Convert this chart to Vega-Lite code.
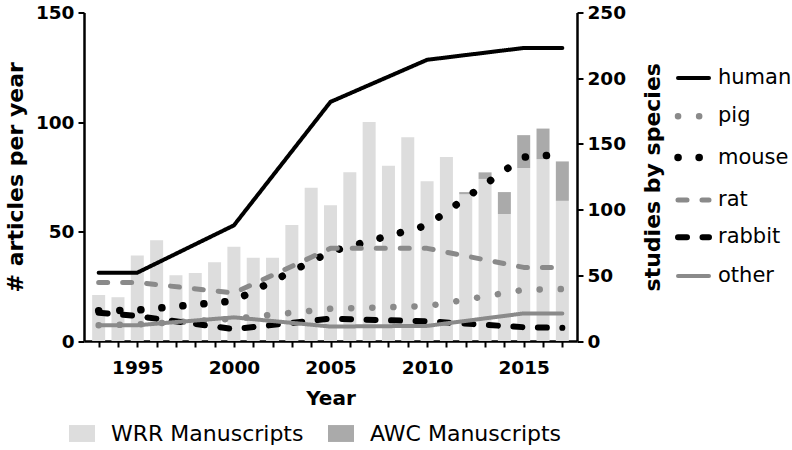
{
  "$schema": "https://vega.github.io/schema/vega-lite/v6.json",
  "width": 493,
  "height": 328.5,
  "autosize": {"type": "none"},
  "padding": {"left": 84, "top": 12.5, "right": 215, "bottom": 109},
  "background": "white",
  "config": {
    "view": {"stroke": null},
    "axis": {
      "grid": false,
      "domainColor": "black",
      "domainWidth": 2.5,
      "tickColor": "black",
      "tickWidth": 2,
      "tickSize": 6,
      "labelFont": "DejaVu Sans",
      "labelFontWeight": "bold",
      "labelFontSize": 18.5,
      "labelColor": "black",
      "labelPadding": 4,
      "titleFont": "DejaVu Sans",
      "titleFontWeight": "bold",
      "titleFontSize": 22,
      "titleColor": "black"
    },
    "legend": {
      "labelFont": "DejaVu Sans",
      "labelColor": "black",
      "padding": 0,
      "labelLimit": 300
    }
  },
  "datasets": {
    "bars": [
      {"year": 1993, "type": "WRR Manuscripts", "count": 21},
      {"year": 1994, "type": "WRR Manuscripts", "count": 20},
      {"year": 1995, "type": "WRR Manuscripts", "count": 39},
      {"year": 1996, "type": "WRR Manuscripts", "count": 46},
      {"year": 1997, "type": "WRR Manuscripts", "count": 30},
      {"year": 1998, "type": "WRR Manuscripts", "count": 31},
      {"year": 1999, "type": "WRR Manuscripts", "count": 36},
      {"year": 2000, "type": "WRR Manuscripts", "count": 43},
      {"year": 2001, "type": "WRR Manuscripts", "count": 38},
      {"year": 2002, "type": "WRR Manuscripts", "count": 38},
      {"year": 2003, "type": "WRR Manuscripts", "count": 53},
      {"year": 2004, "type": "WRR Manuscripts", "count": 70},
      {"year": 2005, "type": "WRR Manuscripts", "count": 62},
      {"year": 2006, "type": "WRR Manuscripts", "count": 77},
      {"year": 2007, "type": "WRR Manuscripts", "count": 100},
      {"year": 2008, "type": "WRR Manuscripts", "count": 80},
      {"year": 2009, "type": "WRR Manuscripts", "count": 93},
      {"year": 2010, "type": "WRR Manuscripts", "count": 73},
      {"year": 2011, "type": "WRR Manuscripts", "count": 84},
      {"year": 2012, "type": "WRR Manuscripts", "count": 67},
      {"year": 2013, "type": "WRR Manuscripts", "count": 74},
      {"year": 2014, "type": "WRR Manuscripts", "count": 58},
      {"year": 2015, "type": "WRR Manuscripts", "count": 79},
      {"year": 2016, "type": "WRR Manuscripts", "count": 83},
      {"year": 2017, "type": "WRR Manuscripts", "count": 64},
      {"year": 2012, "type": "AWC Manuscripts", "count": 1},
      {"year": 2013, "type": "AWC Manuscripts", "count": 3},
      {"year": 2014, "type": "AWC Manuscripts", "count": 10},
      {"year": 2015, "type": "AWC Manuscripts", "count": 15},
      {"year": 2016, "type": "AWC Manuscripts", "count": 14},
      {"year": 2017, "type": "AWC Manuscripts", "count": 18}
    ],
    "species": [
      {"year": 1993, "species": "human", "studies": 52},
      {"year": 1995, "species": "human", "studies": 52},
      {"year": 2000, "species": "human", "studies": 88},
      {"year": 2005, "species": "human", "studies": 182},
      {"year": 2010, "species": "human", "studies": 214},
      {"year": 2015, "species": "human", "studies": 223},
      {"year": 2017, "species": "human", "studies": 223},
      {"year": 1993, "species": "pig", "studies": 12},
      {"year": 1995, "species": "pig", "studies": 12.5},
      {"year": 2000, "species": "pig", "studies": 17},
      {"year": 2005, "species": "pig", "studies": 24.5},
      {"year": 2010, "species": "pig", "studies": 26.5},
      {"year": 2015, "species": "pig", "studies": 39},
      {"year": 2017, "species": "pig", "studies": 39.5},
      {"year": 1993, "species": "mouse", "studies": 23},
      {"year": 1995, "species": "mouse", "studies": 23.5},
      {"year": 2000, "species": "mouse", "studies": 30.5},
      {"year": 2005, "species": "mouse", "studies": 68},
      {"year": 2010, "species": "mouse", "studies": 88},
      {"year": 2015, "species": "mouse", "studies": 140},
      {"year": 2017, "species": "mouse", "studies": 142},
      {"year": 1993, "species": "rat", "studies": 44.5},
      {"year": 1995, "species": "rat", "studies": 44.5},
      {"year": 2000, "species": "rat", "studies": 36.5},
      {"year": 2005, "species": "rat", "studies": 70.5},
      {"year": 2010, "species": "rat", "studies": 70.5},
      {"year": 2015, "species": "rat", "studies": 56},
      {"year": 2017, "species": "rat", "studies": 56},
      {"year": 1993, "species": "rabbit", "studies": 21.5},
      {"year": 1995, "species": "rabbit", "studies": 19},
      {"year": 2000, "species": "rabbit", "studies": 9},
      {"year": 2005, "species": "rabbit", "studies": 17},
      {"year": 2010, "species": "rabbit", "studies": 15},
      {"year": 2015, "species": "rabbit", "studies": 10.5},
      {"year": 2017, "species": "rabbit", "studies": 10},
      {"year": 1993, "species": "other", "studies": 12},
      {"year": 1995, "species": "other", "studies": 12},
      {"year": 2000, "species": "other", "studies": 18},
      {"year": 2005, "species": "other", "studies": 11},
      {"year": 2010, "species": "other", "studies": 11.5},
      {"year": 2015, "species": "other", "studies": 21},
      {"year": 2017, "species": "other", "studies": 21}
    ]
  },
  "layer": [
    {
      "data": {"name": "bars"},
      "mark": {"type": "bar", "width": 13},
      "encoding": {
        "x": {
          "field": "year",
          "type": "quantitative",
          "scale": {"domain": [1992.5, 2017.5], "nice": false, "zero": false},
          "axis": {
            "orient": "bottom",
            "title": "Year",
            "titleFontSize": 20,
            "titlePadding": 12,
            "values": [1995, 2000, 2005, 2010, 2015],
            "format": "d",
            "ticks": false,
            "labelOverlap": false,
            "labelFlush": false,
            "labelPadding": 17
          }
        },
        "y": {
          "field": "count",
          "type": "quantitative",
          "stack": "zero",
          "scale": {"domain": [0, 150], "nice": false},
          "axis": {"title": "# articles per year", "values": [0, 50, 100, 150], "titlePadding": 8}
        },
        "fill": {
          "field": "type",
          "type": "nominal",
          "scale": {"domain": ["WRR Manuscripts", "AWC Manuscripts"], "range": ["#dddddd", "#aaaaaa"]},
          "legend": {
            "title": null,
            "orient": "none",
            "direction": "horizontal",
            "legendX": -15,
            "legendY": 408,
            "symbolType": "M-1,-0.65H1V0.65H-1Z",
            "symbolSize": 676,
            "symbolStrokeWidth": 0,
            "labelFontSize": 22,
            "labelOffset": 16,
            "columnPadding": 24
          }
        },
        "order": {"field": "type", "sort": "descending"}
      }
    },
    {
      "data": {"name": "species"},
      "mark": {"type": "line", "strokeCap": "round", "strokeJoin": "round"},
      "encoding": {
        "x": {
          "field": "year",
          "type": "quantitative",
          "axis": {
            "orient": "bottom",
            "offset": 0,
            "title": null,
            "values": [1993, 1994, 1995, 1996, 1997, 1998, 1999, 2000, 2001, 2002, 2003, 2004, 2005, 2006, 2007, 2008, 2009, 2010, 2011, 2012, 2013, 2014, 2015, 2016, 2017],
            "labels": false,
            "domain": false,
            "tickSize": 6
          }
        },
        "y": {
          "field": "studies",
          "type": "quantitative",
          "scale": {"domain": [0, 250], "nice": false},
          "axis": {"orient": "right", "title": "studies by species", "titleAngle": -90, "values": [0, 50, 100, 150, 200, 250], "titlePadding": 39}
        },
        "stroke": {
          "field": "species",
          "type": "nominal",
          "scale": {"domain": ["human", "pig", "mouse", "rat", "rabbit", "other"], "range": ["#000000", "#8a8a8a", "#000000", "#8a8a8a", "#000000", "#8a8a8a"]},
          "legend": {
            "title": null,
            "orient": "none",
            "legendX": 590,
            "legendY": 48,
            "symbolType": "stroke",
            "symbolSize": 961,
            "labelFontSize": 21,
            "labelOffset": 5,
            "rowPadding": 8.8,
            "encoding": {"symbols": {"strokeCap": {"value": "round"}}}
          }
        },
        "strokeDash": {
          "field": "species",
          "type": "nominal",
          "scale": {"domain": ["human", "pig", "mouse", "rat", "rabbit", "other"], "range": [[1, 0], [0.1, 21], [0.1, 21], [9, 15], [9, 15.5], [1, 0]]},
          "legend": {
            "title": null,
            "orient": "none",
            "legendX": 590,
            "legendY": 48,
            "symbolType": "stroke",
            "symbolSize": 961,
            "labelFontSize": 21,
            "labelOffset": 5,
            "rowPadding": 8.8,
            "encoding": {"symbols": {"strokeCap": {"value": "round"}}}
          }
        },
        "strokeWidth": {
          "field": "species",
          "type": "nominal",
          "scale": {"type": "ordinal", "domain": ["human", "pig", "mouse", "rat", "rabbit", "other"], "range": [4, 6.5, 7.5, 5, 6, 4]},
          "legend": {
            "title": null,
            "orient": "none",
            "legendX": 590,
            "legendY": 48,
            "symbolType": "stroke",
            "symbolSize": 961,
            "labelFontSize": 21,
            "labelOffset": 5,
            "rowPadding": 8.8,
            "encoding": {"symbols": {"strokeCap": {"value": "round"}}}
          }
        }
      }
    }
  ],
  "resolve": {"scale": {"y": "independent"}, "axis": {"x": "independent"}}
}
